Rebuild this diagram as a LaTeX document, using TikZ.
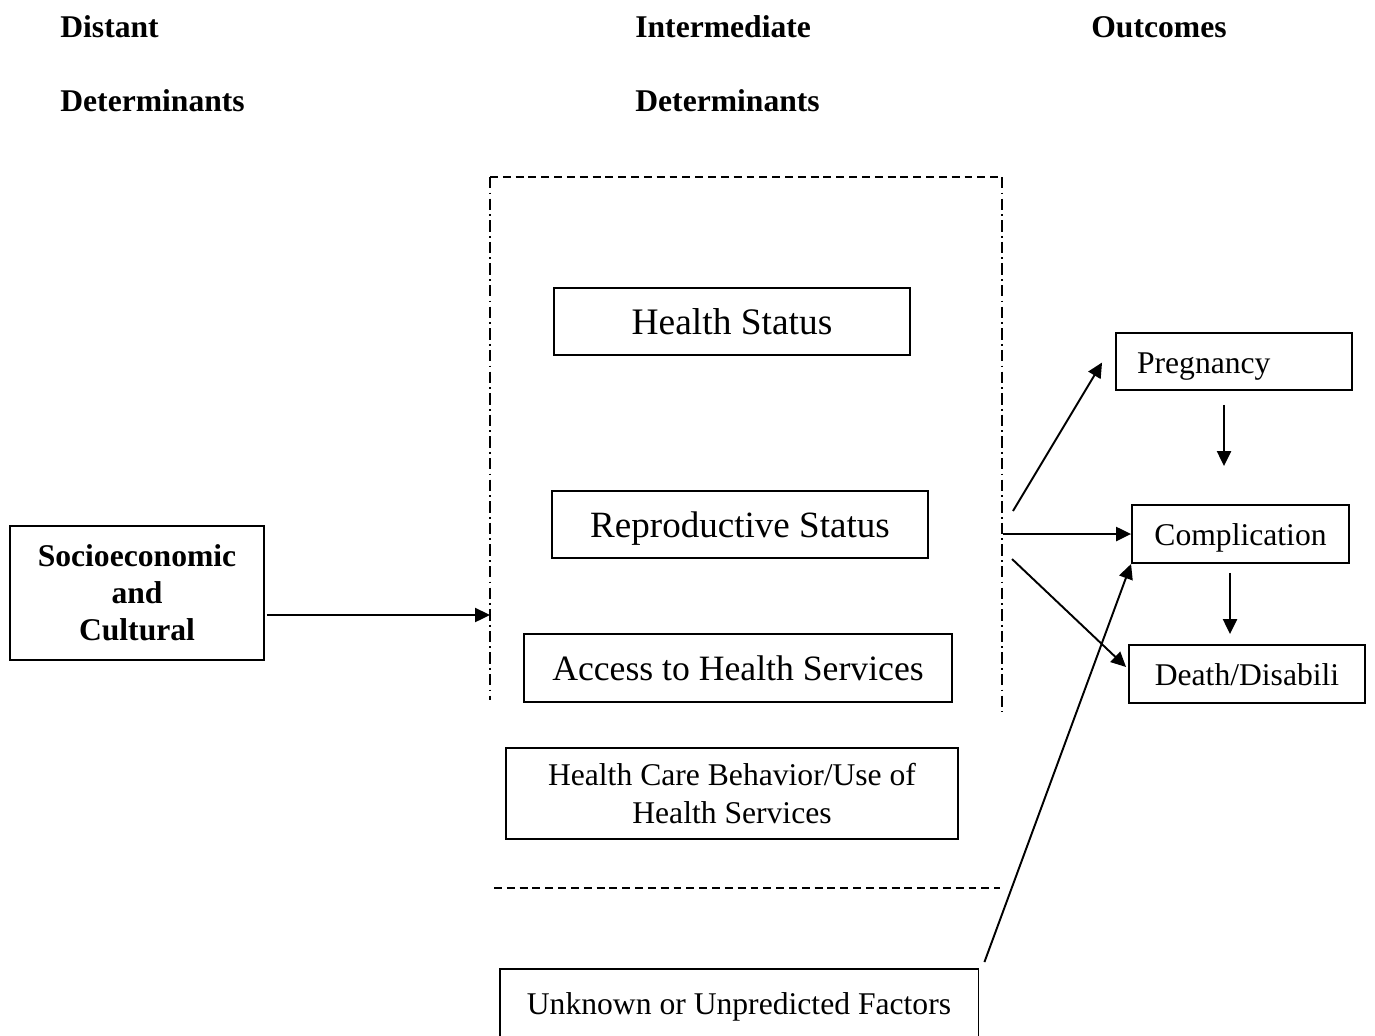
\documentclass[tikz,border=0pt]{standalone}
\usepackage{fontspec}
\setmainfont{Liberation Serif}
\usepackage{tikz}
\usetikzlibrary{arrows.meta,calc}
\tikzset{box/.style={draw, line width=1.1pt, inner sep=0pt, align=center},
    bigline/.style={font=\fontsize{#1}{25}\selectfont, text height=17.2pt, text depth=2.8pt},
    smallline/.style={font=\fontsize{18}{21}\selectfont, text height=15.6pt, text depth=2.4pt},
    heading/.style={font=\fontsize{18}{21}\selectfont\bfseries, anchor=base west, inner sep=0pt},
    link/.style={line width=1.1pt, -{Triangle[length=8.5pt,width=8pt]}},
    framedash/.style={line width=1.1pt, dash pattern=on 4.5pt off 2.8pt},
    framedashdot/.style={line width=1.1pt, dash pattern=on 6.5pt off 2.4pt on 1pt off 2.4pt}
}

\begin{document}
\begin{tikzpicture}[x=0.02cm, y=-0.02cm]
      \useasboundingbox (0, 0) rectangle (1375, 1035);
      % column headings
      \node[heading] (hd1) at (60, 37) {Distant};
      \node[heading] (hd2) at (60, 111) {Determinants};
      \node[heading] (hd3) at (635, 37) {Intermediate};
      \node[heading] (hd4) at (635, 111) {Determinants};
      \node[heading] (hd5) at (1091, 37) {Outcomes};
      % frame round the intermediate determinants
      \coordinate (tl) at (490, 177);
      \coordinate (tr) at (1002, 177);
      \coordinate (lb) at (490, 700);
      \coordinate (rb) at (1002, 712);
      \coordinate (bl) at (494, 888);
      \coordinate (br) at (1000, 888);
      \draw[framedash] (tl) -- (tr);
      \draw[framedashdot] (tl) -- (lb);
      \draw[framedashdot] (tr) -- (rb);
      \draw[framedash] (bl) -- (br);
      % boxes
      \node[box, bigline=21.3, minimum width=7.12cm, minimum height=1.34cm] (hs) at (732, 321.5) {Health Status};
      \node[box, bigline=21.1, minimum width=7.52cm, minimum height=1.34cm] (rs) at (740, 524.5) {Reproductive Status};
      \node[box, bigline=20.3, minimum width=8.56cm, minimum height=1.36cm] (ahs) at (738, 668) {Access to Health Services};
      \node[box, font=\fontsize{18}{22}\selectfont, minimum width=9.04cm, minimum height=1.82cm] (hcb) at (732, 793.5) {Health Care Behavior/Use of\\Health Services};
      \node[box, smallline, minimum width=9.58cm, minimum height=1.36cm] (unk) at (739, 1003) {Unknown or Unpredicted Factors};
      \node[box, font=\fontsize{18}{21}\selectfont\bfseries, minimum width=5.08cm, minimum height=2.68cm] (soc) at (137, 593) {Socioeconomic\\and\\Cultural};
      \node[box, smallline, text width=3.88cm, inner xsep=0.42cm, align=left, minimum height=1.14cm] (preg) at (1234, 361.5) {Pregnancy};
      \node[box, smallline, minimum width=4.34cm, minimum height=1.16cm] (comp) at (1240.5, 534) {Complication};
      \node[box, smallline, minimum width=4.72cm, minimum height=1.16cm] (dd) at (1247, 674) {Death/Disabili};
      % arrows
      \coordinate (l1) at (490, 615);
      \coordinate (r1) at (1013, 511);
      \coordinate (r2) at (1003, 534);
      \coordinate (r3) at (1012, 559);
      \draw[link] ($(soc.east)+(2, 22)$) -- (l1);
      \draw[link] (r1) -- ($(preg.west)+(-13, 1)$);
      \draw[link] (r2) -- (comp.west);
      \draw[link] (r3) -- ($(dd.west)+(-2, -7)$);
      \draw[link] ($(unk.north east)+(5, -6)$) -- (comp.south west);
      \draw[link] ($(preg.south)+(-10, 14)$) -- ($(comp.north)+(-16.5, -38)$);
      \draw[link] ($(comp.south)+(-10.5, 9)$) -- ($(dd.north)+(-17, -10)$);
    \end{tikzpicture}
\end{document}
